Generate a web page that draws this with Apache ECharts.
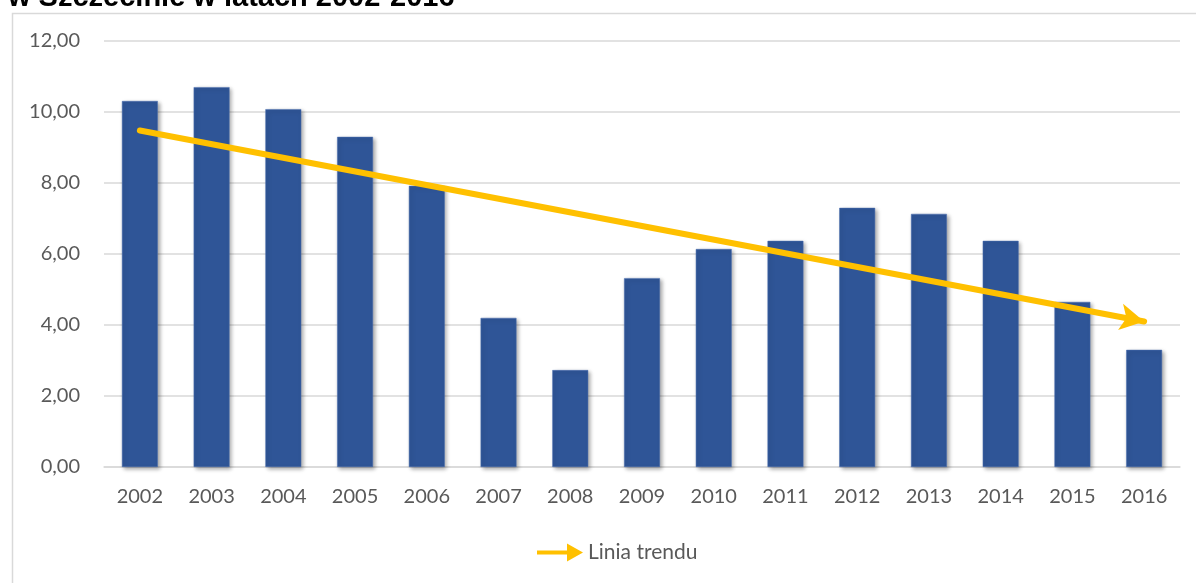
<!DOCTYPE html>
<html><head><meta charset="utf-8">
<script src="https://cdn.jsdelivr.net/npm/echarts@6/dist/echarts.min.js"></script>
<style>html,body{margin:0;padding:0;background:#fff}#c{width:1196px;height:583px}</style>
</head><body><div id="c"></div>
<script>
const categories = ['2002','2003','2004','2005','2006','2007','2008','2009','2010','2011','2012','2013','2014','2015','2016'];
const values = [10.31, 10.70, 10.08, 9.30, 7.92, 4.20, 2.73, 5.32, 6.14, 6.37, 7.30, 7.13, 6.37, 4.65, 3.30];
const trendEnds = [9.48, 4.10];
const yTicks = [0, 2, 4, 6, 8, 10, 12];
const titleText = 'w Szczecinie w latach 2002-2016';
const legendName = 'Linia trendu';

const chart = echarts.init(document.getElementById('c'));
const fnt = 'Lato, "Open Sans", sans-serif';
chart.setOption({
  animation: false,
  graphic: [
    {type:'rect', left:10, top:11, shape:{width:1300, height:700}, style:{fill:'none', stroke:'#D9D9D9', lineWidth:1.5}, z:-1},
    {type:'text', left:8, top:-17, style:{text:titleText, font:'bold 29px "Liberation Sans", Arial, sans-serif', fill:'#000'}}
  ],
  grid: {left:104, right:16, top:41, bottom:116},
  legend: {
    bottom: 15, left: 532,
    itemWidth: 46, itemHeight: 18, itemGap: 8,
    textStyle: {fontFamily: fnt, fontSize: 21, color:'#595959'},
    data: [{name: legendName, icon: 'path://M0,7 L30,7 L30,0 L46,9 L30,18 L30,11 L0,11 Z', itemStyle:{color:'#FFC000'}}]
  },
  xAxis: {
    type: 'category', data: categories,
    axisLine: {lineStyle:{color:'#D9D9D9', width:1.5}},
    axisTick: {show:false},
    axisLabel: {fontFamily: fnt, fontSize: 20, color:'#595959', margin: 20}
  },
  yAxis: {
    type: 'value', min: yTicks[0], max: yTicks[yTicks.length-1], interval: 2,
    axisLine: {show:false}, axisTick: {show:false},
    splitLine: {lineStyle:{color:'#D9D9D9', width:1.5}},
    axisLabel: {fontFamily: fnt, fontSize: 20, color:'#595959', margin: 24,
      formatter: v => v.toFixed(2).replace('.', ',')}
  },
  series: [
    {
      type: 'bar', name: 'Wartość', data: values, barWidth: '50%',
      itemStyle: {color:'#2F5597', borderColor:'#4A6FB0', borderWidth:0.5,
        shadowBlur:4, shadowColor:'rgba(0,0,0,0.35)', shadowOffsetX:2, shadowOffsetY:2}
    },
    {
      type: 'line', name: legendName, data: categories.map(() => null),
      itemStyle: {color:'#FFC000'},
      markLine: {
        silent: true, symbol: ['none','arrow'], symbolSize: [20, 24],
        label: {show:false},
        lineStyle: {color:'#FFC000', width:6, type:'solid', cap:'round'},
        data: [[{coord:[categories[0], trendEnds[0]]}, {coord:[categories[categories.length-1], trendEnds[1]]}]]
      }
    }
  ]
});
</script></body></html>
